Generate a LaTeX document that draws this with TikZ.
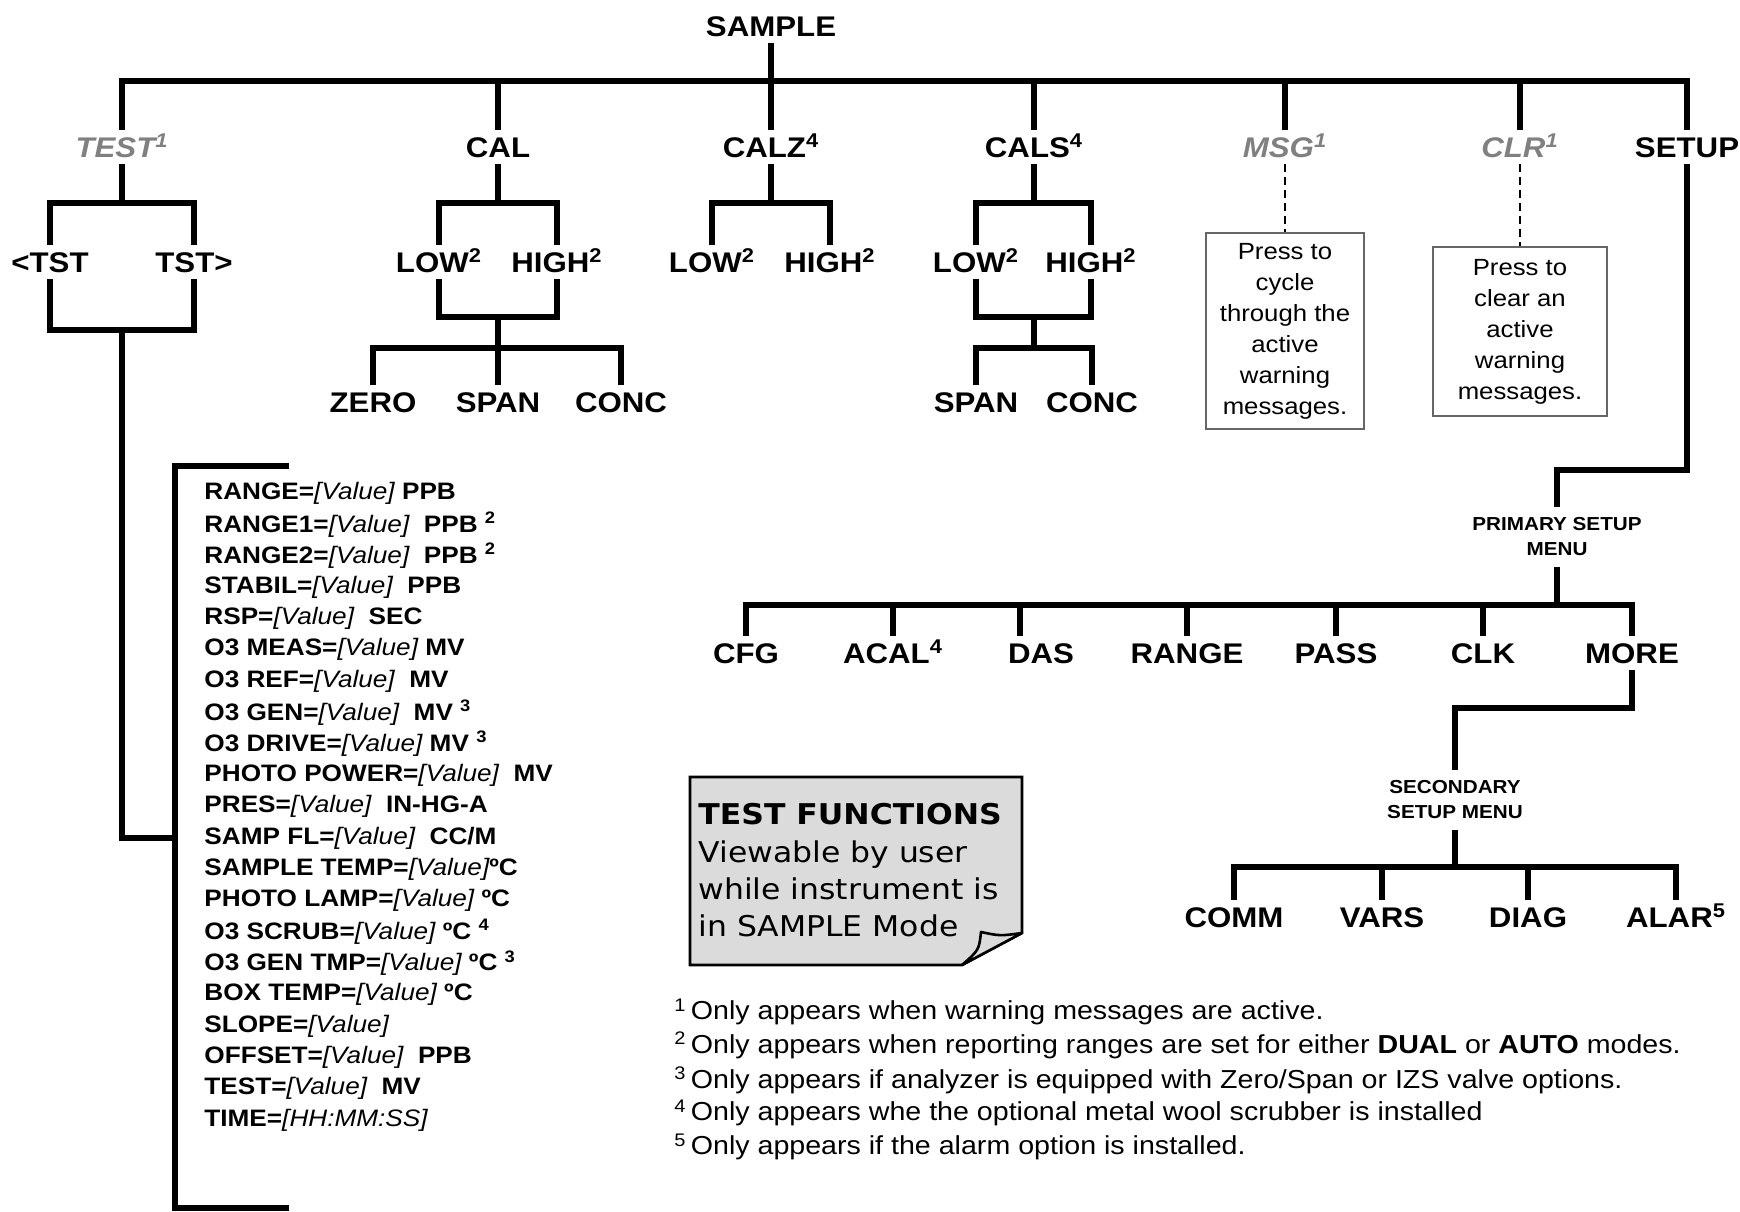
\documentclass[tikz,border=0pt]{standalone}
\usepackage{fontspec}
\setmainfont{Liberation Sans}[FakeStretch=1.1]
\newfontfamily\notefont{DejaVu Sans}[FakeStretch=1.1]
\newcommand\val{{\mdseries\itshape[Value]}}
\tikzset{
	tree/.style={line width=2.6pt},
	lbl/.style={font=\fontsize{14.2}{17}\selectfont\bfseries,inner sep=3pt,text height=10.5pt,text depth=0pt},
	optlbl/.style={lbl,text=black!50,font=\fontsize{14.2}{17}\selectfont\bfseries\itshape},
	menu/.style={font=\fontsize{9.4}{12.5}\selectfont\bfseries,align=center,inner sep=5pt},
	item/.style={font=\fontsize{11.9}{13}\selectfont\bfseries,anchor=west,inner sep=0pt},
	hint/.style={draw=black!60,line width=0.7pt,align=center,font=\fontsize{11.7}{15.5}\selectfont,inner sep=0pt},
	dashln/.style={line width=1.1pt,dash pattern=on 4pt off 2.5pt},
	foot/.style={font=\fontsize{13}{15}\selectfont,anchor=west,inner sep=0pt}
}
\begin{document}
\begin{tikzpicture}[x=.5pt,y=-.5pt]
	\useasboundingbox(0,0)rectangle(1740,1211);
	% main menu
	\node[lbl](sample)at(771,26){SAMPLE};
	\node[optlbl](test)at(122,147){TEST\textsuperscript{1}};
	\node[lbl](cal)at(498,147){CAL};
	\node[lbl](calz)at(771,147){CALZ\textsuperscript{4}};
	\node[lbl](cals)at(1034,147){CALS\textsuperscript{4}};
	\node[optlbl](msg)at(1285,147){MSG\textsuperscript{1}};
	\node[optlbl](clr)at(1520,147){CLR\textsuperscript{1}};
	\node[lbl](setup)at(1687,147){SETUP};
	\coordinate(top)at(771,81);
	\draw[tree](sample.south)--(top);
	\draw[tree](test.north)|-(top)-|(setup.north);
	\foreach \n in {cal,calz,cals,msg,clr}
		\draw[tree](\n.north)--(\n.north|-top);
	% TEST
	\node[lbl](ltst)at(50,262){<TST};
	\node[lbl](rtst)at(194,262){TST>};
	\draw[tree](test.south)--(122,203);
	\draw[tree](ltst.north)|-(122,203)-|(rtst.north);
	\draw[tree](ltst.south)|-(122,330)-|(rtst.south);
	\coordinate(tj)at(175,838);
	\draw[tree](122,330)|-(tj);
	\draw[tree](289,466)-|(tj)|-(289,1208);
	\foreach \t [count=\i] in {
		{RANGE=\val\ PPB},
		{RANGE1=\val\ \ PPB \textsuperscript{2}},
		{RANGE2=\val\ \ PPB \textsuperscript{2}},
		{STABIL=\val\ \ PPB},
		{RSP=\val\ \ SEC},
		{O3 MEAS=\val\ MV},
		{O3 REF=\val\ \ MV},
		{O3 GEN=\val\ \ MV \textsuperscript{3}},
		{O3 DRIVE=\val\ MV \textsuperscript{3}},
		{PHOTO POWER=\val\ \ MV},
		{PRES=\val\ \ IN-HG-A},
		{SAMP FL=\val\ \ CC/M},
		{SAMPLE TEMP=\val{}ºC},
		{PHOTO LAMP=\val\ ºC},
		{O3 SCRUB=\val\ ºC \textsuperscript{4}},
		{O3 GEN TMP=\val\ ºC \textsuperscript{3}},
		{BOX TEMP=\val\ ºC},
		{SLOPE=\val},
		{OFFSET=\val\ \ PPB},
		{TEST=\val\ \ MV},
		{TIME={\mdseries\itshape[HH:MM:SS]}}}
		\node[item](f\i)at(204,{493+31.35*(\i-1)}){\t};
	% CAL
	\node[lbl](lowa)at(439,262){LOW\textsuperscript{2}};
	\node[lbl](higha)at(557,262){HIGH\textsuperscript{2}};
	\node[lbl](zeroa)at(373,402){ZERO};
	\node[lbl](spana)at(498,402){SPAN};
	\node[lbl](conca)at(621,402){CONC};
	\draw[tree](cal.south)--(498,203);
	\draw[tree](lowa.north)|-(498,203)-|(higha.north);
	\draw[tree](lowa.south)|-(498,317)-|(higha.south);
	\draw[tree](498,317)--(498,348);
	\draw[tree](zeroa.north)|-(498,348)-|(conca.north);
	\draw[tree](spana.north)--(498,348);
	% CALZ
	\node[lbl](lowb)at(712,262){LOW\textsuperscript{2}};
	\node[lbl](highb)at(830,262){HIGH\textsuperscript{2}};
	\draw[tree](calz.south)--(771,203);
	\draw[tree](lowb.north)|-(771,203)-|(highb.north);
	% CALS
	\node[lbl](lowc)at(976,262){LOW\textsuperscript{2}};
	\node[lbl](highc)at(1091,262){HIGH\textsuperscript{2}};
	\node[lbl](spanc)at(976,402){SPAN};
	\node[lbl](concc)at(1092,402){CONC};
	\draw[tree](cals.south)--(1034,203);
	\draw[tree](lowc.north)|-(1034,203)-|(highc.north);
	\draw[tree](lowc.south)|-(1034,317)-|(highc.south);
	\draw[tree](1034,317)--(1034,348);
	\draw[tree](spanc.north)|-(1034,348)-|(concc.north);
	% MSG, CLR
	\node[hint,minimum width=79pt,minimum height=98pt](msgbox)at(1285,331)
		{Press to\\cycle\\through the\\active\\warning\\messages.};
	\node[hint,minimum width=87pt,minimum height=84.5pt](clrbox)at(1520,331.5)
		{Press to\\clear an\\active\\warning\\messages.};
	\draw[dashln](msg.south)--(msgbox.north);
	\draw[dashln](clr.south)--(clrbox.north);
	% SETUP
	\node[menu](psm)at(1557,537){PRIMARY SETUP\\MENU};
	\draw[tree](setup.south)|-(1557,470)--(psm.north);
	\node[lbl](cfg)at(746,653){CFG};
	\node[lbl](acal)at(893,653){ACAL\textsuperscript{4}};
	\node[lbl](das)at(1041,653){DAS};
	\node[lbl](range)at(1187,653){RANGE};
	\node[lbl](pass)at(1336,653){PASS};
	\node[lbl](clk)at(1483,653){CLK};
	\node[lbl](more)at(1632,653){MORE};
	\coordinate(pbus)at(1557,605);
	\draw[tree](psm.south)--(pbus);
	\draw[tree](cfg.north)|-(pbus)-|(more.north);
	\foreach \n in {acal,range,pass,clk}
		\draw[tree](\n.north)--(\n.north|-pbus);
	\coordinate(dasx)at([xshift=-10.5pt]das.north);
	\draw[tree](dasx)--(dasx|-pbus);
	\node[menu](ssm)at(1455,800){SECONDARY\\SETUP MENU};
	\draw[tree](more.south)|-(1455,708)--(ssm.north);
	\node[lbl](comm)at(1234,917){COMM};
	\node[lbl](vars)at(1382,917){VARS};
	\node[lbl](diag)at(1528,917){DIAG};
	\node[lbl](alar)at(1676,917){ALAR\textsuperscript{5}};
	\coordinate(sbus)at(1455,867);
	\draw[tree](ssm.south)--(sbus);
	\draw[tree](comm.north)|-(sbus)-|(alar.north);
	\foreach \n in {vars,diag}
		\draw[tree](\n.north)--(\n.north|-sbus);
	% note
	\filldraw[fill=black!14,line width=1.3pt](690,777)--(1022,777)--(1022,933)--(962,965)--(690,965)--cycle;
	\filldraw[fill=black!14,line width=1.3pt,line join=round](1022,933)..controls(1000,936)..(981,932)
		..controls(979,950)..(962,965)--cycle;
	\node[anchor=north west,inner sep=0pt,align=left,font=\notefont\fontsize{14.3}{18.7}\selectfont](note)at(698,803)
		{\textbf{TEST FUNCTIONS}\\Viewable by user\\while instrument is\\in SAMPLE Mode};
	% footnotes
	\node[foot](fn1)at(674,1012){\textsuperscript{1}\,Only appears when warning messages are active.};
	\node[foot](fn2)at(674,1045){\textsuperscript{2}\,Only appears when reporting ranges are set for either \textbf{DUAL} or \textbf{AUTO} modes.};
	\node[foot](fn3)at(674,1080){\textsuperscript{3}\,Only appears if analyzer is equipped with Zero/Span or IZS valve options.};
	\node[foot](fn4)at(674,1113){\textsuperscript{4}\,Only appears whe the optional metal wool scrubber is installed};
	\node[foot](fn5)at(674,1147){\textsuperscript{5}\,Only appears if the alarm option is installed.};
\end{tikzpicture}
\end{document}
